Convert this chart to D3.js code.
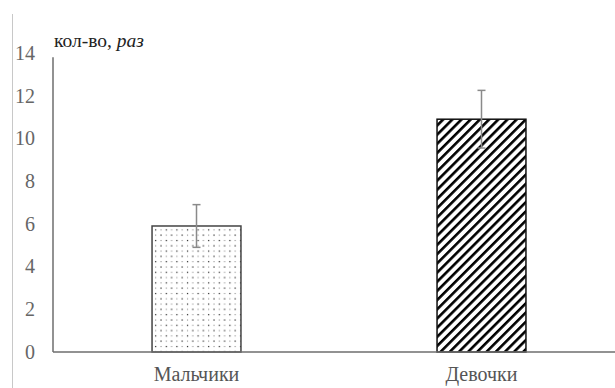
<!DOCTYPE html>
<html><head><meta charset="utf-8">
<script src="https://cdn.jsdelivr.net/npm/d3@7"></script>
<style>body{margin:0;background:#fff}svg{display:block}</style>
</head><body>
<svg id="c" width="615" height="388"></svg>
<script>
const categories = ["Мальчики", "Девочки"];
const values = [5.9, 10.9];
const errors = [1.0, 1.35];
const yTicks = [0, 2, 4, 6, 8, 10, 12, 14];

const FONT = "'Liberation Serif', 'Times New Roman', serif";
const svg = d3.select("#c");
const W = 615, H = 388;
const m = {left: 53, right: 0, top: 53, bottom: 36};

const defs = svg.append("defs");
const dots = defs.append("pattern").attr("id","dots").attr("patternUnits","userSpaceOnUse")
  .attr("width",10.6).attr("height",10.6);
dots.append("rect").attr("width",10.6).attr("height",10.6).attr("fill","#fff");
[[2,2],[7.3,7.3]].forEach(p=>dots.append("rect").attr("x",p[0]-0.6).attr("y",p[1]-0.6).attr("width",1.2).attr("height",1.2).attr("fill","#222"));
[[7.3,2],[2,7.3]].forEach(p=>dots.append("rect").attr("x",p[0]-0.5).attr("y",p[1]-0.5).attr("width",1).attr("height",1).attr("fill","#777"));
const hatch = defs.append("pattern").attr("id","hatch").attr("patternUnits","userSpaceOnUse")
  .attr("width",6.5).attr("height",6.5).attr("patternTransform","rotate(45)");
hatch.append("rect").attr("width",6.5).attr("height",6.5).attr("fill","#fff");
hatch.append("rect").attr("x",0).attr("y",0).attr("width",2.6).attr("height",6.5).attr("fill","#000");

// frame line at left
svg.append("line").attr("x1",12.5).attr("x2",12.5).attr("y1",14).attr("y2",H).attr("stroke","#c8c8c8").attr("stroke-width",1);

const x = d3.scaleBand().domain(categories).range([58, 620]).paddingInner(0.688).paddingOuter(0.33);
const y = d3.scaleLinear().domain([0,14]).range([H - m.bottom, m.top]);

// y axis
const yAxis = svg.append("g").attr("transform",`translate(${m.left},0)`)
  .call(d3.axisLeft(y).tickValues(yTicks).tickSize(0).tickPadding(18));
yAxis.attr("font-family", null);
yAxis.select(".domain").attr("stroke","#6e6e6e").attr("stroke-width",1.5).attr("d",`M0,${y(13.8)}V${y(0)}`);
yAxis.selectAll("text").style("font-family",FONT).style("font-size","20px").attr("fill","#666");

// bars
const fills = ["url(#dots)","url(#hatch)"];
svg.selectAll(".bar").data(values).join("rect").attr("class","bar")
  .attr("x",(d,i)=>x(categories[i])).attr("width",x.bandwidth())
  .attr("y",d=>y(d)).attr("height",d=>y(0)-y(d))
  .attr("fill",(d,i)=>fills[i]).attr("stroke",(d,i)=>i?"#111":"#444").attr("stroke-width",1.5);

// error bars
const eg = svg.selectAll(".err").data(values).join("g").attr("class","err")
  .attr("stroke","#8a8a8a").attr("stroke-width",1.5);
eg.append("line").attr("x1",(d,i)=>x(categories[i])+x.bandwidth()/2).attr("x2",(d,i)=>x(categories[i])+x.bandwidth()/2)
  .attr("y1",(d,i)=>y(d+errors[i])).attr("y2",(d,i)=>y(d-errors[i]));
[1,-1].forEach(s=>{
  eg.append("line").attr("x1",(d,i)=>x(categories[i])+x.bandwidth()/2-4).attr("x2",(d,i)=>x(categories[i])+x.bandwidth()/2+4)
    .attr("y1",(d,i)=>y(d+s*errors[i])).attr("y2",(d,i)=>y(d+s*errors[i]));
});

// x axis
const xAxis = svg.append("g").attr("transform",`translate(0,${y(0)})`)
  .call(d3.axisBottom(x).tickSize(0).tickPadding(15));
xAxis.attr("font-family", null);
xAxis.select(".domain").attr("stroke","#6e6e6e").attr("stroke-width",1.5).attr("d",`M${m.left},0H${W}`);
xAxis.selectAll("text").style("font-family",FONT).style("font-size","20px").attr("fill","#555");

// axis title
const t = svg.append("text").attr("x",54).attr("y",47).style("font-family",FONT).style("font-size","19.5px").attr("fill","#222");
t.append("tspan").text("кол-во, ");
t.append("tspan").style("font-style","italic").text("раз");
</script>
</body></html>
